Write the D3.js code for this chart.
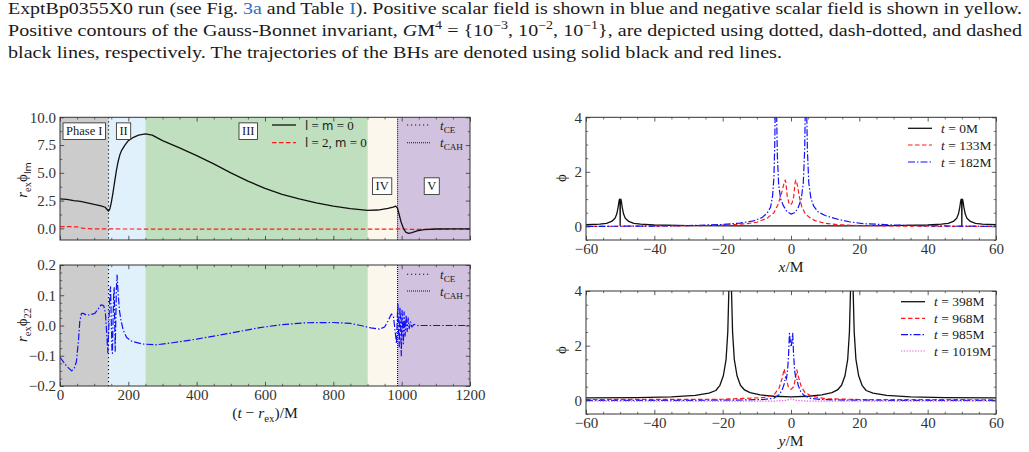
<!DOCTYPE html>
<html><head><meta charset="utf-8">
<script src="https://cdn.jsdelivr.net/npm/d3@7"></script>
<style>
body{margin:0;background:#fff}
svg{display:block}
text{font-family:"Liberation Serif","DejaVu Serif",serif;fill:#1a1a1a}
</style>
</head><body>
<svg id="c" width="1029" height="452"></svg>
<script>
// ---------------- DATA ----------------
const paraLines = [
  "ExptBp0355X0 run (see Fig. 3a and Table I). Positive scalar field is shown in blue and negative scalar field is shown in yellow.",
  "Positive contours of the Gauss-Bonnet invariant, GM4 = {10−3, 10−2, 10−1}, are depicted using dotted, dash-dotted, and dashed",
  "black lines, respectively. The trajectories of the BHs are denoted using solid black and red lines."
];
const phaseNames = ["Phase I", "II", "III", "IV", "V"];
const phaseBounds = [0, 142, 250, 901, 988, 1200];
const tCE = 142, tCAH = 988;
const leftTicks = [0, 200, 400, 600, 800, 1000, 1200];
const topYTicks = [0, 2.5, 5, 7.5, 10];
const botYTicks = [-0.2, -0.1, 0, 0.1, 0.2];
const rightXTicks = [-60, -40, -20, 0, 20, 40, 60];
const rightYTicks = [0, 2, 4];

// r_ex phi_lm, l=m=0 (t, value)
const lm00 = [[0,2.65],[20,2.6],[40,2.5],[60,2.42],[80,2.3],[100,2.15],[120,2.03],[132,1.9],[138,1.7],[142,1.55],[146,1.75],[150,2.3],[155,3.2],[160,4.2],[165,5.2],[170,6.0],[175,6.6],[180,7.0],[190,7.5],[200,7.9],[215,8.2],[230,8.4],[250,8.5],[270,8.4],[300,7.9],[350,7.25],[400,6.55],[450,5.8],[500,5.0],[550,4.25],[600,3.6],[650,3.05],[700,2.65],[750,2.3],[800,2.0],[850,1.78],[900,1.62],[930,1.65],[960,1.8],[975,1.92],[983,2.0],[988,1.8],[993,1.2],[998,0.6],[1005,0.0],[1012,-0.35],[1020,-0.45],[1030,-0.38],[1045,-0.22],[1065,-0.12],[1100,-0.06],[1150,-0.05],[1200,-0.05]];
// l=2, m=0
const l2m0 = [[0,0.15],[30,0.15],[50,0.13],[60,0.05],[75,-0.02],[100,-0.05],[200,-0.06],[400,-0.07],[800,-0.07],[980,-0.07],[1000,-0.05],[1020,-0.09],[1200,-0.07]];
// r_ex phi_22
const phi22 = [[0,-0.105],[10,-0.12],[20,-0.135],[34,-0.15],[42,-0.14],[48,-0.12],[54,-0.05],[58,0.015],[63,0.04],[68,0.04],[78,0.034],[90,0.036],[102,0.04],[112,0.055],[120,0.068],[128,0.066],[133,0.04],[137,-0.03],[140,-0.09],[143,0.0],[146,0.11],[148,0.128],[150,0.02],[152,-0.08],[153.5,-0.092],[155,0.0],[157,0.1],[158.5,0.125],[160,0.02],[161.5,-0.085],[163,0.0],[165,0.12],[167,0.167],[170,0.11],[174,0.05],[178,0.02],[185,-0.015],[195,-0.04],[210,-0.052],[240,-0.061],[280,-0.064],[330,-0.057],[400,-0.045],[500,-0.025],[585,-0.007],[650,0.003],[720,0.009],[800,0.01],[850,0.007],[880,0.0],[910,-0.008],[935,-0.012],[950,-0.005],[960,0.015],[970,0.038],[976,0.03],[981,-0.02],[985,-0.06],[987,0.02],[989,0.07],[991,-0.02],[993,-0.07],[995,0.06],[997,0.0],[999,-0.1],[1001,0.05],[1003,0.0],[1005,-0.06],[1007,0.045],[1010,-0.035],[1013,0.035],[1016,-0.02],[1019,0.025],[1022,-0.01],[1026,0.012],[1030,-0.005],[1036,0.004],[1045,0],[1200,0]];

// phi along x
const phiX0 = [[-60,0.06],[-56,0.08],[-54,0.11],[-52.5,0.18],[-51.5,0.3],[-51,0.45],[-50.6,0.7],[-50.35,0.92],[-50.2,1.0],[-50.05,0.85],[-50,0.03],[-49.95,0.85],[-49.8,1.0],[-49.65,0.92],[-49.4,0.7],[-49,0.45],[-48.5,0.3],[-47.5,0.18],[-46,0.11],[-44,0.08],[-40,0.05],[-30,0.03],[-15,0.02],[0,0.02],[15,0.02],[30,0.03],[40,0.05],[44,0.08],[46,0.11],[47.5,0.18],[48.5,0.3],[49,0.45],[49.4,0.7],[49.65,0.92],[49.8,1.0],[49.95,0.85],[50,0.03],[50.05,0.85],[50.2,1.0],[50.35,0.92],[50.6,0.7],[51,0.45],[51.5,0.3],[52.5,0.18],[54,0.11],[56,0.08],[60,0.06]];
const phiX133 = [[-60,0.0],[-40,0.01],[-25,0.03],[-18,0.05],[-13,0.1],[-10,0.15],[-7,0.3],[-5,0.5],[-3.8,0.8],[-2.8,1.2],[-2.1,1.55],[-1.7,1.7],[-1.5,1.6],[-1.1,1.1],[-0.6,0.85],[-0.15,0.78],[0.3,0.85],[0.8,1.1],[1.2,1.6],[1.4,1.7],[1.8,1.55],[2.5,1.05],[3.2,0.7],[4.2,0.46],[5.5,0.32],[7,0.21],[10,0.11],[14,0.06],[20,0.03],[30,0.015],[45,0.0],[60,0.0]];
const phiX182 = [[-60,0.0],[-40,0.01],[-30,0.03],[-20,0.07],[-15,0.12],[-11,0.2],[-8.5,0.32],[-7,0.48],[-6,0.7],[-5.4,1.1],[-5,1.8],[-4.75,3.0],[-4.55,5.0],[-4.4,6],[-4.25,4.5],[-4.0,2.6],[-3.6,1.5],[-3.0,1.0],[-2.2,0.75],[-1.2,0.55],[0,0.45],[1,0.5],[2,0.65],[3,1.0],[3.6,1.6],[4.0,2.8],[4.25,4.8],[4.4,6],[4.55,4.5],[4.8,2.8],[5.2,1.6],[5.8,1.05],[6.6,0.75],[8,0.52],[10,0.4],[12,0.32],[14,0.25],[17,0.17],[21,0.1],[30,0.05],[40,0.02],[60,0.0]];
// phi along y
const phiY398 = [[-60,0.09],[-45,0.1],[-35,0.13],[-28,0.18],[-24,0.26],[-22,0.36],[-20.8,0.55],[-19.8,0.9],[-19,1.5],[-18.5,2.5],[-18.15,4.2],[-17.8,6],[-17.45,4.2],[-17.1,2.5],[-16.6,1.5],[-15.8,0.9],[-14.8,0.55],[-13.6,0.38],[-12,0.28],[-9,0.2],[-5,0.15],[0,0.13],[5,0.15],[9,0.2],[12,0.28],[13.6,0.38],[14.8,0.55],[15.8,0.9],[16.6,1.5],[17.1,2.5],[17.45,4.2],[17.8,6],[18.15,4.2],[18.5,2.5],[19,1.5],[19.8,0.9],[20.8,0.55],[22,0.36],[24,0.26],[28,0.18],[35,0.13],[45,0.1],[60,0.09]];
const phiY968 = [[-60,0.03],[-20,0.04],[-8,0.1],[-5,0.2],[-3.5,0.45],[-2.6,0.8],[-2,1.15],[-1.5,0.85],[-0.8,0.5],[0,0.4],[0.8,0.5],[1.3,0.8],[1.7,1.12],[2.2,0.85],[3,0.5],[4,0.3],[6,0.15],[10,0.06],[20,0.03],[60,0.02]];
const phiY985 = [[-60,0.0],[-30,0.0],[-15,0.01],[-8,0.03],[-5,0.08],[-3.5,0.2],[-2.6,0.38],[-2.0,0.6],[-1.6,0.85],[-1.3,0.8],[-1.0,1.1],[-0.7,1.7],[-0.45,2.45],[-0.25,2.2],[0.05,1.95],[0.3,2.2],[0.5,2.45],[0.75,1.7],[1.05,1.1],[1.4,0.8],[1.7,0.8],[2.1,0.55],[2.8,0.33],[3.8,0.18],[5.5,0.08],[9,0.03],[15,0.01],[30,0.0],[60,0.0]];
const phiY1019 = [[-60,-0.03],[-20,-0.03],[-5,-0.03],[-1.5,0.0],[0,0.05],[1.5,0.0],[5,-0.03],[20,-0.03],[60,-0.03]];

// ---------------- STYLES ----------------
const phaseFill = ["#cccccc", "#e0f1fb", "#bfdfbf", "#fcf7ec", "#d1c2e0"];
const ST = {
  black: {stroke:"#111", dash:null, w:1.3},
  red:   {stroke:"#ff1a1a", dash:"4.5,2.5", w:1.2},
  blue:  {stroke:"#1010ff", dash:"7,2,1.5,2", w:1.2},
  mag:   {stroke:"#e060e0", dash:"1.3,1.5", w:1.2}
};

const svg = d3.select("#c");
let clipId = 0;

function rich(textSel, segs, size) {
  let cur = 0;
  segs.forEach(s => {
    const t = textSel.append("tspan").text(s.t);
    let fs = size;
    let want = 0;
    if (s.sub) { fs = size * 0.7; want = size * 0.25; }
    if (s.sup) { fs = size * 0.7; want = -size * 0.4; }
    t.attr("font-size", fs);
    if (want !== cur) { t.attr("dy", want - cur); cur = want; }
    if (s.it) t.attr("font-style", "italic");
    if (s.sans) t.style("font-family", "'DejaVu Sans',sans-serif").attr("font-size", fs * 0.9);
    if (s.fill) t.style("fill", s.fill);
  });
}

function panel(o) {
  const g = svg.append("g");
  const x = d3.scaleLinear().domain(o.xdom).range([o.x0, o.x1]);
  const y = d3.scaleLinear().domain(o.ydom).range([o.y1, o.y0]);
  const id = "clip" + (clipId++);
  svg.append("clipPath").attr("id", id).append("rect")
    .attr("x", o.x0).attr("y", o.y0).attr("width", o.x1 - o.x0).attr("height", o.y1 - o.y0);
  const body = g.append("g").attr("clip-path", `url(#${id})`);
  const over = g.append("g");
  return {g, body, over, x, y, o};
}

function axes(p) {
  const {x, y, o, over} = p;
  const xMin = d3.range(o.xdom[0], o.xdom[1] + 1e-9, o.xMinor).filter(v => !o.xTicks.some(t => Math.abs(t - v) < 1e-9));
  const yMin = d3.range(Math.ceil(o.ydom[0] / o.yMinor) * o.yMinor, o.ydom[1] + 1e-9, o.yMinor).filter(v => !o.yTicks.some(t => Math.abs(t - v) < 1e-9));
  const axSpec = [
    [d3.axisBottom, `translate(0,${o.y1})`, x, o.xTicks, xMin, o.xLabels],
    [d3.axisTop, `translate(0,${o.y0})`, x, o.xTicks, xMin, false],
    [d3.axisLeft, `translate(${o.x0},0)`, y, o.yTicks, yMin, true],
    [d3.axisRight, `translate(${o.x1},0)`, y, o.yTicks, yMin, false]
  ];
  axSpec.forEach(([fn, tr, sc, maj, mn, lab], i) => {
    const gm = over.append("g").attr("transform", tr)
      .call(fn(sc).tickValues(mn).tickSize(-2.2).tickFormat(""));
    gm.select(".domain").remove();
    const ga = over.append("g").attr("transform", tr)
      .call(fn(sc).tickValues(maj).tickSize(-4.2).tickPadding(lab ? (i < 2 ? 3.5 : 4) : 0)
        .tickFormat(lab ? (i >= 2 ? o.yFmt : o.xFmt) : ""));
    ga.select(".domain").remove();
    ga.selectAll("text").attr("font-size", 15).style("fill", "#333")
      .style("font-family", '"Liberation Serif",serif');
    gm.selectAll("line").attr("stroke", "#333").attr("stroke-width", 0.7);
    ga.selectAll("line").attr("stroke", "#333").attr("stroke-width", 0.8);
  });
  over.append("rect").attr("x", o.x0).attr("y", o.y0)
    .attr("width", o.x1 - o.x0).attr("height", o.y1 - o.y0)
    .attr("fill", "none").attr("stroke", "#333").attr("stroke-width", 1);
}

function curve(p, data, st) {
  const line = d3.line().x(d => p.x(d[0])).y(d => p.y(d[1]));
  p.body.append("path").datum(data).attr("d", line)
    .attr("fill", "none").attr("stroke", st.stroke).attr("stroke-width", st.w)
    .attr("stroke-dasharray", st.dash).attr("stroke-linejoin", "round");
}

function bands(p) {
  phaseNames.forEach((n, i) => {
    p.body.append("rect")
      .attr("x", p.x(phaseBounds[i])).attr("width", p.x(phaseBounds[i + 1]) - p.x(phaseBounds[i]))
      .attr("y", p.o.y0).attr("height", p.o.y1 - p.o.y0).attr("fill", phaseFill[i]);
  });
  p.body.append("line").attr("x1", p.x(tCE)).attr("x2", p.x(tCE)).attr("y1", p.o.y0).attr("y2", p.o.y1)
    .attr("stroke", "#111").attr("stroke-width", 1.1).attr("stroke-dasharray", "1.2,2.8");
  p.body.append("line").attr("x1", p.x(tCAH)).attr("x2", p.x(tCAH)).attr("y1", p.o.y0).attr("y2", p.o.y1)
    .attr("stroke", "#111").attr("stroke-width", 1.1).attr("stroke-dasharray", "1,1");
}

function legend(g, x0, ys, items, size) {
  items.forEach((it, i) => {
    g.append("line").attr("x1", x0).attr("x2", x0 + 24).attr("y1", ys[i]).attr("y2", ys[i])
      .attr("stroke", it.st.stroke).attr("stroke-width", it.st.w).attr("stroke-dasharray", it.st.dash);
    const t = g.append("text").attr("x", x0 + 33).attr("y", ys[i] + 4.5).attr("font-size", size);
    rich(t, it.segs, size);
  });
}

// ---------------- PARAGRAPH ----------------
{
  const blue = "#2c6fc0";
  const fs = 16.5;
  const t1 = svg.append("text").attr("x", 8).attr("y", 14).attr("font-size", fs)
    .attr("textLength", 1014).attr("lengthAdjust", "spacingAndGlyphs");
  rich(t1, [{t:"ExptBp0355X0 run (see Fig. "},{t:"3a",fill:blue},{t:" and Table "},{t:"I",fill:blue},
    {t:"). Positive scalar field is shown in blue and negative scalar field is shown in yellow."}], fs);
  const t2 = svg.append("text").attr("x", 8).attr("y", 36).attr("font-size", fs)
    .attr("textLength", 1014).attr("lengthAdjust", "spacingAndGlyphs");
  rich(t2, [{t:"Positive contours of the Gauss-Bonnet invariant, "},{t:"G",it:true},{t:"M"},{t:"4",sup:true},
    {t:" = {10"},{t:"−3",sup:true},{t:", 10"},{t:"−2",sup:true},{t:", 10"},{t:"−1",sup:true},
    {t:"}, are depicted using dotted, dash-dotted, and dashed"}], fs);
  const t3 = svg.append("text").attr("x", 8).attr("y", 58).attr("font-size", fs)
    .attr("textLength", 774).attr("lengthAdjust", "spacingAndGlyphs");
  rich(t3, [{t: paraLines[2]}], fs);
}

// ---------------- LEFT TOP ----------------
const fmt1 = d3.format(".1f");
const pLT = panel({x0:60, x1:470, y0:117.3, y1:240, xdom:[0,1200], ydom:[-1.05,10]});
bands(pLT);
curve(pLT, l2m0, ST.red);
curve(pLT, lm00, ST.black);
Object.assign(pLT.o, {xTicks:leftTicks, xMinor:50, yTicks:topYTicks, yMinor:1.25, xLabels:false, yFmt:fmt1});
axes(pLT);
// phase labels
const phasePos = [[71,8.75],[186,8.75],[551,8.75],[943,3.8],[1088,3.8]];
phaseNames.forEach((n, i) => {
  const cx = pLT.x(phasePos[i][0]), cy = pLT.y(phasePos[i][1]);
  const lg = pLT.over.append("g");
  const r = lg.append("rect");
  const t = lg.append("text").attr("x", cx).attr("y", cy + 4.3).attr("text-anchor", "middle")
    .attr("font-size", 12.5).text(n);
  const w = t.node().getComputedTextLength() + 6;
  r.attr("x", cx - w / 2).attr("y", cy - 8.3).attr("width", w).attr("height", 16.6)
    .attr("fill", "#fff").attr("stroke", "#222").attr("stroke-width", 0.8);
});
legend(pLT.over, 272, [125, 142.7], [
  {st:ST.black, segs:[{t:"l",sans:true},{t:" = "},{t:"m",sans:true},{t:" = 0"}]},
  {st:ST.red, segs:[{t:"l",sans:true},{t:" = 2, "},{t:"m",sans:true},{t:" = 0"}]}
], 13);
legend(pLT.over, 407, [125, 142.7], [
  {st:{stroke:"#111", w:1.1, dash:"1.2,2.8"}, segs:[{t:"t",it:true},{t:"CE",sub:true}]},
  {st:{stroke:"#111", w:1.1, dash:"1,1"}, segs:[{t:"t",it:true},{t:"CAH",sub:true}]}
], 13);
{
  const t = svg.append("text").attr("transform", "translate(27,180) rotate(-90)").attr("text-anchor", "middle").attr("font-size", 15);
  rich(t, [{t:"r",it:true},{t:"ex",sub:true},{t:"ϕ"},{t:"lm",sub:true,sans:true}], 15);
}

// ---------------- LEFT BOTTOM ----------------
const pLB = panel({x0:60, x1:470, y0:265, y1:386, xdom:[0,1200], ydom:[-0.2,0.2]});
bands(pLB);
curve(pLB, phi22, ST.blue);
Object.assign(pLB.o, {xTicks:leftTicks, xMinor:50, yTicks:botYTicks, yMinor:0.025, xLabels:true, yFmt:fmt1, xFmt:d3.format("d")});
axes(pLB);
legend(pLB.over, 407, [274.3, 291], [
  {st:{stroke:"#111", w:1.1, dash:"1.2,2.8"}, segs:[{t:"t",it:true},{t:"CE",sub:true}]},
  {st:{stroke:"#111", w:1.1, dash:"1,1"}, segs:[{t:"t",it:true},{t:"CAH",sub:true}]}
], 13);
{
  const t = svg.append("text").attr("transform", "translate(27,325) rotate(-90)").attr("text-anchor", "middle").attr("font-size", 15);
  rich(t, [{t:"r",it:true},{t:"ex",sub:true},{t:"ϕ"},{t:"22",sub:true}], 15);
  const t2 = svg.append("text").attr("x", 265).attr("y", 418).attr("text-anchor", "middle").attr("font-size", 15.5);
  rich(t2, [{t:"("},{t:"t",it:true},{t:" − "},{t:"r",it:true},{t:"ex",sub:true},{t:")/M"}], 15.5);
}

// ---------------- RIGHT TOP ----------------
const fmtI = d3.format("d");
const pRT = panel({x0:586, x1:996, y0:117.3, y1:240, xdom:[-60,60], ydom:[-0.5,4]});
curve(pRT, phiX0, ST.black);
curve(pRT, phiX133, ST.red);
curve(pRT, phiX182, ST.blue);
Object.assign(pRT.o, {xTicks:rightXTicks, xMinor:5, yTicks:rightYTicks, yMinor:0.5, xLabels:true, yFmt:fmtI, xFmt:fmtI});
axes(pRT);
legend(pRT.over, 908, [128.3, 145, 162], [
  {st:ST.black, segs:[{t:"t",it:true},{t:" = 0M"}]},
  {st:ST.red, segs:[{t:"t",it:true},{t:" = 133M"}]},
  {st:ST.blue, segs:[{t:"t",it:true},{t:" = 182M"}]}
], 13.5);
{
  const t = svg.append("text").attr("transform", "translate(566,178) rotate(-90)").attr("text-anchor", "middle").attr("font-size", 15);
  rich(t, [{t:"ϕ"}], 15);
  const t2 = svg.append("text").attr("x", 791).attr("y", 272).attr("text-anchor", "middle").attr("font-size", 15.5);
  rich(t2, [{t:"x",it:true},{t:"/M"}], 15.5);
}

// ---------------- RIGHT BOTTOM ----------------
const pRB = panel({x0:586, x1:996, y0:291, y1:414, xdom:[-60,60], ydom:[-0.5,4]});
curve(pRB, phiY398, ST.black);
curve(pRB, phiY968, ST.red);
curve(pRB, phiY985, ST.blue);
curve(pRB, phiY1019, ST.mag);
Object.assign(pRB.o, {xTicks:rightXTicks, xMinor:5, yTicks:rightYTicks, yMinor:0.5, xLabels:true, yFmt:fmtI, xFmt:fmtI});
axes(pRB);
legend(pRB.over, 901, [301.7, 318.3, 334.7, 351], [
  {st:ST.black, segs:[{t:"t",it:true},{t:" = 398M"}]},
  {st:ST.red, segs:[{t:"t",it:true},{t:" = 968M"}]},
  {st:ST.blue, segs:[{t:"t",it:true},{t:" = 985M"}]},
  {st:ST.mag, segs:[{t:"t",it:true},{t:" = 1019M"}]}
], 13.5);
{
  const t = svg.append("text").attr("transform", "translate(566,350) rotate(-90)").attr("text-anchor", "middle").attr("font-size", 15);
  rich(t, [{t:"ϕ"}], 15);
  const t2 = svg.append("text").attr("x", 791).attr("y", 446).attr("text-anchor", "middle").attr("font-size", 15.5);
  rich(t2, [{t:"y",it:true},{t:"/M"}], 15.5);
}
</script>
</body></html>
